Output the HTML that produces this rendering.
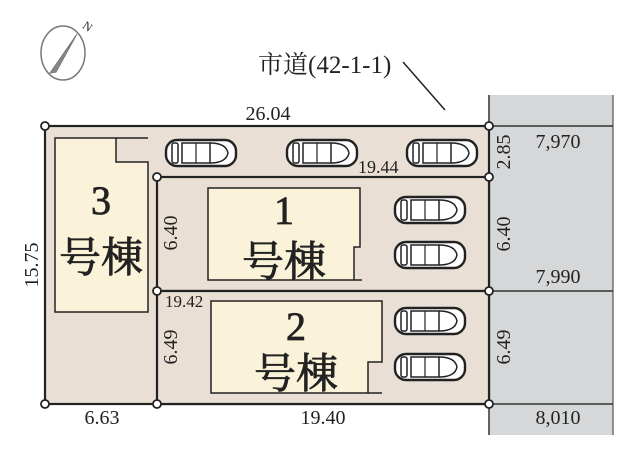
<!DOCTYPE html>
<html><head><meta charset="utf-8"><style>
html,body{margin:0;padding:0;background:#fff;width:640px;height:450px;overflow:hidden}
svg{display:block}
text{font-family:"Liberation Serif","Noto Serif CJK SC",serif;fill:#222}
</style></head><body>
<svg width="640" height="450" viewBox="0 0 640 450">
<defs>
<g id="car">
<rect x="0" y="0" width="70" height="26" rx="11" fill="#fff" stroke="#222" stroke-width="2.4"/>
<rect x="6" y="3" width="6" height="20" rx="2" fill="none" stroke="#222" stroke-width="1.5"/>
<rect x="16" y="3" width="28" height="20" fill="none" stroke="#222" stroke-width="1.5"/>
<path d="M44 3 Q60 3 62 13 Q60 23 44 23" fill="none" stroke="#222" stroke-width="1.5"/>
<line x1="30" y1="3" x2="30" y2="23" stroke="#222" stroke-width="1.2"/>
</g>
</defs>
<rect x="489" y="95" width="124" height="340" fill="#d5d7d9"/>
<line x1="489" y1="95" x2="489" y2="435" stroke="#333" stroke-width="1.5"/>
<line x1="613" y1="95" x2="613" y2="435" stroke="#333" stroke-width="1"/>
<line x1="489" y1="126" x2="613" y2="126" stroke="#333" stroke-width="1.5"/>
<line x1="489" y1="291" x2="613" y2="291" stroke="#333" stroke-width="1.5"/>
<line x1="489" y1="404" x2="613" y2="404" stroke="#333" stroke-width="1.5"/>
<rect x="45" y="126" width="444" height="278" fill="#e9dfd4" stroke="#222" stroke-width="2.2"/>
<rect x="157" y="177" width="332" height="114" fill="#e9dfd4" stroke="#222" stroke-width="2.2"/>
<rect x="157" y="291" width="332" height="113" fill="#e9dfd4" stroke="#222" stroke-width="2.2"/>
<path d="M55 138 H116 V162 H148 V312 H55 Z" fill="#fbf3d9" stroke="#222" stroke-width="1.5"/>
<line x1="116" y1="138" x2="148" y2="138" stroke="#222" stroke-width="1.5"/>
<path d="M208 188 H360 V247 H354 V280 H208 Z" fill="#fbf3d9" stroke="#222" stroke-width="1.5"/>
<path d="M211 301 H382 V362 H368 V393 H211 Z" fill="#fbf3d9" stroke="#222" stroke-width="1.5"/>
<line x1="368" y1="393" x2="382" y2="393" stroke="#222" stroke-width="1.5"/>
<line x1="354" y1="280" x2="362" y2="280" stroke="#222" stroke-width="1.5"/>
<g stroke="#222" stroke-width="0.8">
<text x="101" y="214" font-size="40" text-anchor="middle">3</text>
<text x="101" y="272" font-size="42" text-anchor="middle">号棟</text>
<text x="284" y="224" font-size="40" text-anchor="middle">1</text>
<text x="284" y="276" font-size="42" text-anchor="middle">号棟</text>
<text x="296" y="340" font-size="40" text-anchor="middle">2</text>
<text x="296" y="388" font-size="42" text-anchor="middle">号棟</text>
</g>
<use href="#car" x="166" y="140"/>
<use href="#car" x="287" y="140"/>
<use href="#car" x="407" y="140"/>
<use href="#car" x="395" y="197"/>
<use href="#car" x="395" y="242"/>
<use href="#car" x="395" y="308"/>
<use href="#car" x="395" y="354"/>
<g fill="#fff" stroke="#222" stroke-width="1.8">
<circle cx="45" cy="126" r="4"/><circle cx="489" cy="126" r="4"/>
<circle cx="157" cy="177" r="4"/><circle cx="489" cy="177" r="4"/>
<circle cx="157" cy="291" r="4"/><circle cx="489" cy="291" r="4"/>
<circle cx="45" cy="404" r="4"/><circle cx="157" cy="404" r="4"/><circle cx="489" cy="404" r="4"/>
</g>
<g font-size="20">
<text x="268" y="120" text-anchor="middle">26.04</text>
<text x="358" y="173" font-size="18">19.44</text>
<text x="165" y="307" font-size="17">19.42</text>
<text x="323" y="424" text-anchor="middle">19.40</text>
<text x="102" y="424" text-anchor="middle">6.63</text>
<text x="558" y="148" text-anchor="middle">7,970</text>
<text x="558" y="283" text-anchor="middle">7,990</text>
<text x="558" y="424" text-anchor="middle">8,010</text>
<text transform="translate(38,265) rotate(-90)" text-anchor="middle">15.75</text>
<text transform="translate(177,233) rotate(-90)" text-anchor="middle">6.40</text>
<text transform="translate(177,347) rotate(-90)" text-anchor="middle">6.49</text>
<text transform="translate(510,152) rotate(-90)" text-anchor="middle">2.85</text>
<text transform="translate(510,234) rotate(-90)" text-anchor="middle">6.40</text>
<text transform="translate(510,347) rotate(-90)" text-anchor="middle">6.49</text>
</g>
<text x="258" y="73" font-size="25">市道(42-1-1)</text>
<line x1="403" y1="62" x2="445" y2="110" stroke="#222" stroke-width="1.5"/>
<ellipse cx="63" cy="53" rx="22" ry="27" fill="none" stroke="#777" stroke-width="1.5"/>
<path d="M50 73 L77 34 L56 72 Z" fill="#888" stroke="#777"/>
<text x="84" y="28" font-size="12" fill="#666" font-family="Liberation Sans,sans-serif" transform="rotate(35 84 24)">N</text>
</svg>
</body></html>
